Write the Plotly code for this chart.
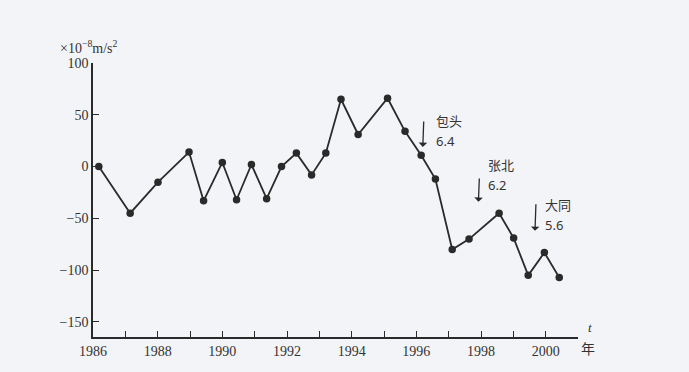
import plotly.graph_objects as go

# Data
years = [1986.18, 1987.15, 1988.01, 1988.97, 1989.42, 1990.0, 1990.44, 1990.9,
         1991.37, 1991.83, 1992.29, 1992.76, 1993.2, 1993.67, 1994.2, 1995.11,
         1995.65, 1996.15, 1996.59, 1997.11, 1997.63, 1998.56, 1999.01, 1999.46,
         1999.96, 2000.42]
values = [0, -45, -15, 14, -33, 4, -32, 2, -31, 0, 13, -8, 13, 65, 31, 66,
          34, 11, -12, -80, -70, -45, -69, -105, -83, -107]

x_tick_vals = list(range(1986, 2002))
x_tick_text = [str(y) if (y % 2 == 0 and y <= 2000) else "" for y in x_tick_vals]
y_tick_vals = [-150, -100, -50, 0, 50, 100]

# Earthquake markers: name, magnitude, arrow tail/head, label position
quake_names = ["包头", "张北", "大同"]
quake_mags = ["6.4", "6.2", "5.6"]
arrow_x = [1996.23, 1997.95, 1999.70]
arrow_tail_y = [45, -10, -35]
arrow_head_y = [19, -34, -62]
label_x = [1996.58, 1998.18, 1999.96]
label_y = [34.5, -8, -46.5]

BG = "#f3f4f7"
INK = "#2a2a2a"

fig = go.Figure()
fig.add_trace(go.Scatter(
    x=years, y=values, mode="lines+markers",
    line=dict(color=INK, width=1.8),
    marker=dict(color=INK, size=7.5),
    showlegend=False, hoverinfo="skip",
))

for nm, mg, ax_, ty, hy, lx, ly in zip(quake_names, quake_mags, arrow_x,
                                       arrow_tail_y, arrow_head_y, label_x, label_y):
    fig.add_annotation(
        x=ax_ - 0.03, y=hy, ax=ax_, ay=ty, xref="x", yref="y", axref="x", ayref="y",
        text="", showarrow=True, arrowhead=1, arrowsize=1.1, arrowwidth=1.3,
        arrowcolor=INK,
    )
    fig.add_annotation(
        x=lx, y=ly, xref="x", yref="y", xanchor="left", yanchor="bottom",
        text=nm, showarrow=False, borderpad=0,
        font=dict(family="Noto Sans CJK SC", size=13, color="#333"),
    )
    fig.add_annotation(
        x=lx, y=ly, xref="x", yref="y", xanchor="left", yanchor="top",
        text=mg, showarrow=False, borderpad=0,
        font=dict(family="Noto Sans", size=13, color="#333"),
    )

fig.add_annotation(
    x=-0.072, y=1.06, xref="paper", yref="paper", xanchor="left", yanchor="middle",
    text="×10<sup>−8</sup>m/s<sup>2</sup>", showarrow=False,
    font=dict(family="Liberation Serif", size=14, color="#333"),
)
fig.add_annotation(
    x=1.025, y=0.035, xref="paper", yref="paper", xanchor="center", yanchor="middle",
    text="<i>t</i>", showarrow=False,
    font=dict(family="Liberation Serif", size=13, color="#333"),
)
fig.add_annotation(
    x=1.021, y=-0.04, xref="paper", yref="paper", xanchor="center", yanchor="middle",
    text="年", showarrow=False,
    font=dict(family="Noto Sans CJK SC", size=14, color="#333"),
)

# The page body adds an 8px offset, so the figure is 8px smaller and margins shifted
fig.update_layout(
    width=681, height=364,
    margin=dict(l=85, r=111, t=55, b=35),
    paper_bgcolor=BG, plot_bgcolor=BG,
    xaxis=dict(
        range=[1986, 2001], tickvals=x_tick_vals, ticktext=x_tick_text,
        showgrid=False, zeroline=False, showline=True, linecolor=INK, linewidth=1.5,
        ticks="inside", ticklen=6, tickwidth=1.3, tickcolor=INK,
        tickfont=dict(family="Liberation Serif", size=14, color="#333"),
    ),
    yaxis=dict(
        range=[-164.5, 100], tickvals=y_tick_vals,
        showgrid=False, zeroline=False, showline=True, linecolor=INK, linewidth=1.5,
        ticks="inside", ticklen=6, tickwidth=1.3, tickcolor=INK,
        tickfont=dict(family="Liberation Serif", size=14, color="#333"),
    ),
)

fig.write_html("out.html",
               post_script="document.body.style.background='%s';" % BG)
